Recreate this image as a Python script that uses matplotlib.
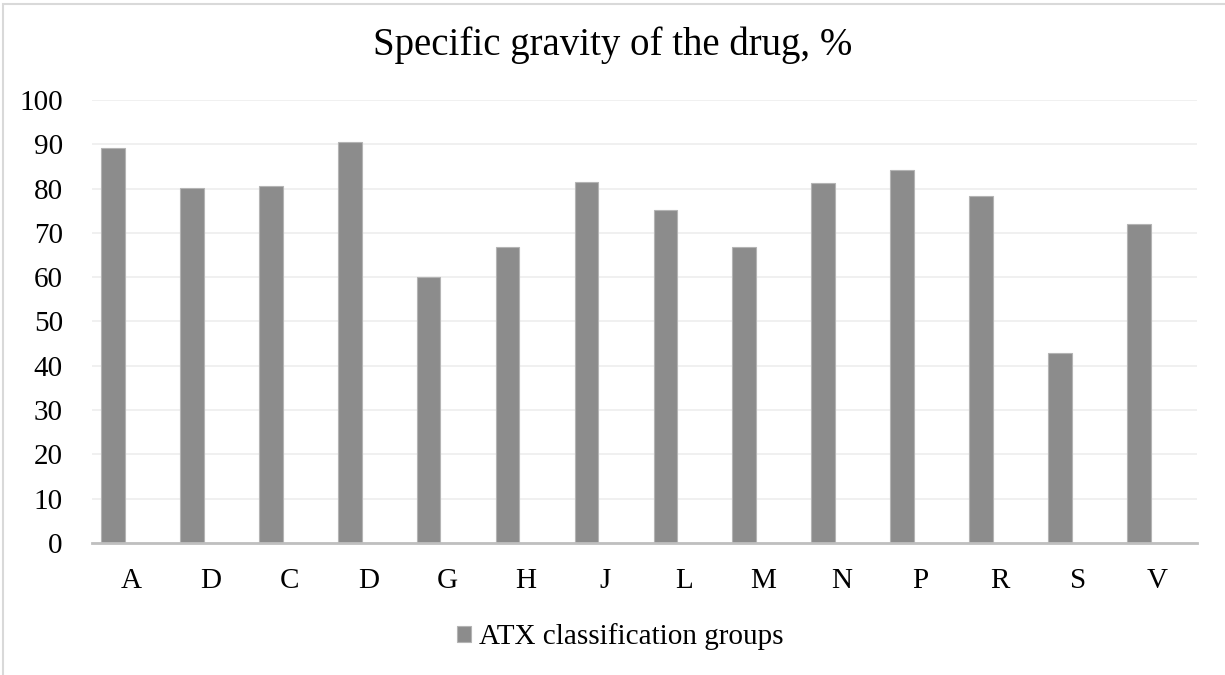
import matplotlib
matplotlib.use("Agg")
from matplotlib import pyplot as plt
from matplotlib.patches import Rectangle
import numpy as np

plt.rcParams['font.family'] = ['Liberation Serif', 'DejaVu Serif']

groups = ["A", "D", "C", "D", "G", "H", "J", "L", "M", "N", "P", "R", "S", "V"]
share = [89.2, 80.1, 80.5, 90.4, 60.0, 66.7, 81.4, 75.1, 66.7, 81.2, 84.1, 78.3, 42.8, 71.9]

fig = plt.figure(figsize=(12.25, 6.75), dpi=100)
ax = fig.add_axes([0.0751, 0.1956, 0.9020, 0.6563])

x = np.arange(len(groups))
bars = ax.bar(x - 0.235, share, width=0.30, color="#8c8c8c", edgecolor="#b4b4b4",
              linewidth=0.8, label="ATX classification groups", zorder=3)

ax.set_xlim(-0.5, len(groups) - 0.5)
ax.set_ylim(0, 100)
ax.set_yticks(range(0, 101, 10))
ax.set_xticks(x)
ax.set_xticklabels(groups)
ax.grid(axis="y", color="#eeeeee", linewidth=1.2, zorder=0)
ax.tick_params(axis="both", length=0, labelsize=21, colors="black")
ax.tick_params(axis="x", pad=18)
ax.tick_params(axis="y", pad=21)
for s in ["top", "right", "left"]:
    ax.spines[s].set_visible(False)
ax.spines["bottom"].set_color("#bfbfbf")
ax.spines["bottom"].set_linewidth(2)
ax.spines["bottom"].set_zorder(4)

fig.text(0.5, 1 - 45 / 675, "Specific gravity of the drug, %", ha="center", va="center", fontsize=28)

ax.legend(loc="center", bbox_to_anchor=(0.506, 1 - 637 / 675), bbox_transform=fig.transFigure,
          frameon=False, fontsize=21, handlelength=0.5, handleheight=0.5, handletextpad=0.25)

# chart area border
fig.patches.append(Rectangle((3 / 1225, -0.05), 1.1, 1 - 4 / 675 + 0.05, transform=fig.transFigure,
                             fill=False, edgecolor="#d9d9d9", linewidth=1.5))

fig.savefig("out.png", dpi=100)
